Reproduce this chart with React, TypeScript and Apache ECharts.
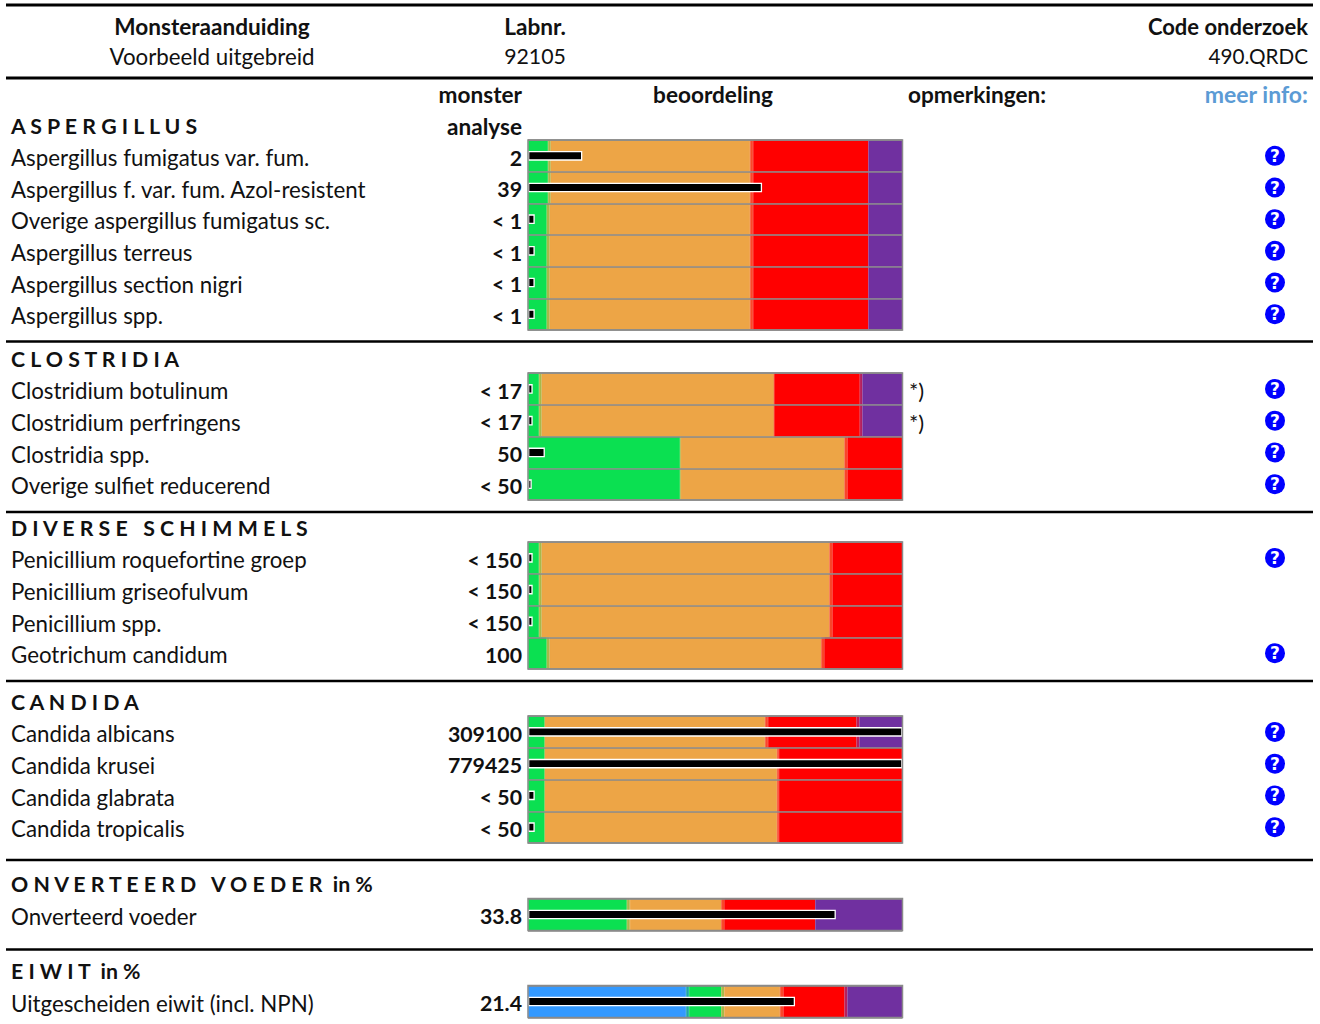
import React, { useEffect, useRef } from "react";
import * as echarts from "echarts";

const FONT = "Lato";
const GREY = "#8a8a8a";

// band widths (% of the scale): blue, blue>green, green, green>orange, orange, orange>red, red, red>purple, purple
const bandColors = ["#3399ff", "#1fa5a8", "#0be051", "#a8b84a", "#eda546", "#f9472a", "#ff0000", "#b5205f", "#7030a0"];

const aspergillusNames = ["Aspergillus fumigatus var. fum.", "Aspergillus f. var. fum. Azol-resistent", "Overige aspergillus fumigatus sc.", "Aspergillus terreus", "Aspergillus section nigri", "Aspergillus spp."];
const aspergillusResults = ["2", "39", "< 1", "< 1", "< 1", "< 1"];
const aspergillusMarkers = [14.5, 62.5, 1.8, 1.8, 1.8, 1.8];
const aspergillusInfo = [1, 1, 1, 1, 1, 1];
const aspergillusNotes = ["", "", "", "", "", ""];
const aspergillusBands = [
  [0, 0, 5.35, 0.72, 53.23, 0.8, 30.8, 0, 9.1],
  [0, 0, 5.35, 0.72, 53.23, 0.8, 30.8, 0, 9.1],
  [0, 0, 5.0, 0.8, 53.5, 0.8, 30.8, 0, 9.1],
  [0, 0, 5.0, 0.8, 53.5, 0.8, 30.8, 0, 9.1],
  [0, 0, 5.0, 0.8, 53.5, 0.8, 30.8, 0, 9.1],
  [0, 0, 5.0, 0.8, 53.5, 0.8, 30.8, 0, 9.1],
];

const clostridiaNames = ["Clostridium botulinum", "Clostridium perfringens", "Clostridia spp.", "Overige sulfiet reducerend"];
const clostridiaResults = ["< 17", "< 17", "50", "< 50"];
const clostridiaMarkers = [1.25, 1.25, 4.5, 1];
const clostridiaInfo = [1, 1, 1, 1];
const clostridiaNotes = ["*)", "*)", "", ""];
const clostridiaBands = [
  [0, 0, 2.94, 0.72, 62.04, 0.1, 22.8, 0.7, 10.7],
  [0, 0, 2.94, 0.72, 62.04, 0.1, 22.8, 0.7, 10.7],
  [0, 0, 40.6, 0.2, 43.7, 0.8, 14.7, 0, 0],
  [0, 0, 40.6, 0.2, 43.7, 0.8, 14.7, 0, 0],
];

const schimmelNames = ["Penicillium roquefortine groep", "Penicillium griseofulvum", "Penicillium spp.", "Geotrichum candidum"];
const schimmelResults = ["< 150", "< 150", "< 150", "100"];
const schimmelMarkers = [1.25, 1.25, 1.25, 0];
const schimmelInfo = [1, 0, 0, 1];
const schimmelNotes = ["", "", "", ""];
const schimmelBands = [
  [0, 0, 2.94, 0.72, 76.84, 0.8, 18.7, 0, 0],
  [0, 0, 2.94, 0.72, 76.84, 0.8, 18.7, 0, 0],
  [0, 0, 2.94, 0.72, 76.84, 0.8, 18.7, 0, 0],
  [0, 0, 5.0, 0.8, 72.5, 0.8, 20.9, 0, 0],
];

const candidaNames = ["Candida albicans", "Candida krusei", "Candida glabrata", "Candida tropicalis"];
const candidaResults = ["309100", "779425", "< 50", "< 50"];
const candidaMarkers = [100, 100, 1.8, 1.8];
const candidaInfo = [1, 1, 1, 1];
const candidaNotes = ["", "", "", ""];
const candidaBands = [
  [0, 0, 4.46, 0, 58.84, 0.8, 23.6, 0.8, 11.5],
  [0, 0, 4.46, 0, 62.04, 0.5, 32.9, 0, 0],
  [0, 0, 4.46, 0, 62.04, 0.5, 32.9, 0, 0],
  [0, 0, 4.46, 0, 62.04, 0.5, 32.9, 0, 0],
];

const voederNames = ["Onverteerd voeder"];
const voederResults = ["33.8"];
const voederMarkers = [82.2];
const voederInfo = [0];
const voederNotes = [""];
const voederBands = [[0, 0, 26.4, 0.8, 24.4, 0.8, 24.3, 0, 23.3]];

const eiwitNames = ["Uitgescheiden eiwit (incl. NPN)"];
const eiwitResults = ["21.4"];
const eiwitMarkers = [71.3];
const eiwitInfo = [0];
const eiwitNotes = [""];
const eiwitBands = [[42.2, 0.8, 8.6, 0.8, 14.9, 0.9, 16.3, 0.8, 14.7]];

const sections = [
  { names: aspergillusNames, results: aspergillusResults, markers: aspergillusMarkers, info: aspergillusInfo, notes: aspergillusNotes, bands: aspergillusBands },
  { names: clostridiaNames, results: clostridiaResults, markers: clostridiaMarkers, info: clostridiaInfo, notes: clostridiaNotes, bands: clostridiaBands },
  { names: schimmelNames, results: schimmelResults, markers: schimmelMarkers, info: schimmelInfo, notes: schimmelNotes, bands: schimmelBands },
  { names: candidaNames, results: candidaResults, markers: candidaMarkers, info: candidaInfo, notes: candidaNotes, bands: candidaBands },
  { names: voederNames, results: voederResults, markers: voederMarkers, info: voederInfo, notes: voederNotes, bands: voederBands },
  { names: eiwitNames, results: eiwitResults, markers: eiwitMarkers, info: eiwitInfo, notes: eiwitNotes, bands: eiwitBands },
];

const sectionTitles = ["A S P E R G I L L U S", "C L O S T R I D I A", "D I V E R S E   S C H I M M E L S", "C A N D I D A", "O N V E R T E E R D   V O E D E R  in %", "E I W I T  in %"];

function buildOption() {
  const gridTops = [140, 373, 542, 716, 898.5, 985.5];
  const gridHeights = [190, 127, 127, 127, 32, 32];
  const titleY = [126, 359, 528, 702, 884, 971];
  const ruleY = [5, 78, 341.5, 512, 681, 860, 949.5];
  const fs = 22.3;
  const fsBold = 22.6;
  const fsValue = 21.3;

  const grid: any[] = [];
  const xAxis: any[] = [];
  const yAxis: any[] = [];
  const series: any[] = [];

  // Rich token sitting at the bottom of a taller line: drops the label a little below the row's centre.
  const lowered = (style: any) => ({
    formatter: (v: string) => (v ? `{a|${v}}` : ""),
    rich: { a: { ...style, lineHeight: style.fontSize + 3.2, verticalAlign: "bottom" } },
  });

  sections.forEach((s, i) => {
    grid.push({ left: 528, width: 374.5, top: gridTops[i], height: gridHeights[i], show: true, backgroundColor: "transparent", borderColor: GREY, borderWidth: 1.5, z: 6 });
    xAxis.push({ type: "value", gridIndex: i, min: 0, max: 100, show: false });
    const base = { type: "category", gridIndex: i, inverse: true, axisLine: { show: false }, axisTick: { show: false }, z: 5 };
    const y0 = yAxis.length;
    yAxis.push({
      ...base, position: "left", data: s.names,
      splitLine: { show: true, interval: 0, lineStyle: { color: GREY, width: 1.5 } },
      axisLabel: { interval: 0, align: "left", margin: 517, ...lowered({ fontFamily: FONT, fontSize: fs, color: "#111" }) },
    });
    yAxis.push({
      ...base, position: "left", data: s.results,
      splitLine: { show: false },
      axisLabel: { interval: 0, align: "right", margin: 6, ...lowered({ fontFamily: FONT, fontWeight: "bold", fontSize: fsValue, color: "#111" }) },
    });
    yAxis.push({
      ...base, position: "right", data: s.info.map((v) => (v ? "?" : "")),
      splitLine: { show: false },
      axisLabel: {
        interval: 0, align: "center", margin: 372.5,
        formatter: (v: string) => (v ? `{q|${v}}` : ""),
        rich: { q: { backgroundColor: "#0000ff", borderRadius: 10, width: 20, height: 20, lineHeight: 20, align: "center", verticalAlign: "middle", color: "#fff", fontFamily: "DejaVu Sans", fontWeight: "bold", fontSize: 17 } },
      },
    });
    yAxis.push({
      ...base, position: "right", data: s.notes,
      splitLine: { show: false },
      axisLabel: { interval: 0, align: "left", margin: 6.5, ...lowered({ fontFamily: FONT, fontSize: 22, color: "#111" }) },
    });
    bandColors.forEach((color, c) => {
      series.push({
        type: "bar", xAxisIndex: i, yAxisIndex: y0, stack: `bands${i}`, barWidth: "100%", silent: true, z: 2,
        itemStyle: { color, borderColor: color, borderWidth: 0.5 }, data: s.bands.map((r) => r[c] || null),
      });
    });
    series.push({
      type: "bar", xAxisIndex: i, yAxisIndex: y0 + 1, barWidth: 9.6, silent: true, z: 3,
      itemStyle: { color: "#000", borderColor: "#fff", borderWidth: 1.3 }, data: s.markers.map((m) => m || null),
    });
  });

  const txt = (text: string, x: number, y: number, align: string, bold = false, color = "#111", size?: number) => ({
    type: "text", x, y, z: 10,
    style: { text, fill: color, align, verticalAlign: "middle", fontFamily: FONT, fontSize: size ?? (bold ? fsBold : fs), fontWeight: bold ? "bold" : "normal" },
  });

  const graphic = [
    ...ruleY.map((y, i) => ({
      type: "line", z: 10,
      shape: { x1: 6, y1: y, x2: 1313, y2: y },
      style: { stroke: "#000", lineWidth: i < 2 ? 3 : 2.6 },
    })),
    txt("Monsteraanduiding", 212, 26, "center", true),
    txt("Voorbeeld uitgebreid", 212, 56, "center"),
    txt("Labnr.", 535, 26, "center", true),
    txt("92105", 535, 56, "center", false, "#111", fsValue),
    txt("Code onderzoek", 1308, 26, "right", true, "#111", 22),
    txt("490.QRDC", 1308, 56, "right", false, "#111", 20.7),
    txt("monster", 522, 94, "right", true),
    txt("analyse", 522, 126, "right", true),
    txt("beoordeling", 713, 94, "center", true),
    txt("opmerkingen:", 908, 94, "left", true),
    txt("meer info:", 1308, 94, "right", true, "#5b9bd5", 23),
    ...sectionTitles.map((t, i) => txt(t, 11, titleY[i], "left", true, "#111", 21.3)),
  ];

  return { animation: false, backgroundColor: "#fff", grid, xAxis, yAxis, series, graphic };
}

export default function App() {
  const ref = useRef<HTMLDivElement>(null);
  useEffect(() => {
    const chart = echarts.init(ref.current!, undefined, { renderer: "svg" });
    chart.setOption(buildOption() as any);
    return () => chart.dispose();
  }, []);
  return <div ref={ref} style={{ position: "absolute", left: 0, top: 0, width: 1320, height: 1024 }} />;
}
